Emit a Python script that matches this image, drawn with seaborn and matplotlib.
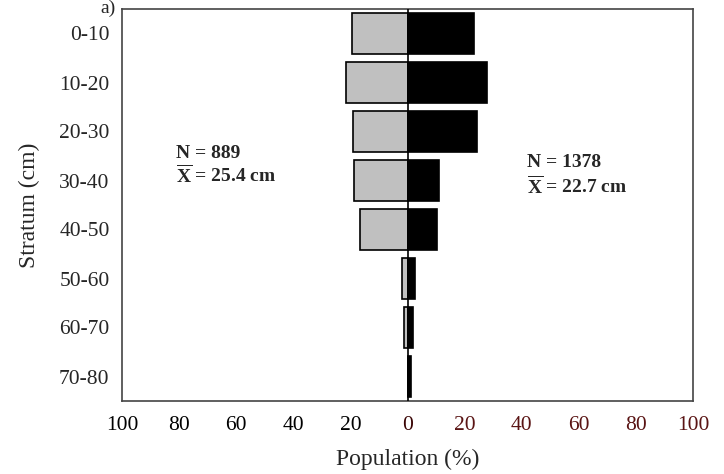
import matplotlib
matplotlib.use("Agg")
import matplotlib.pyplot as plt
import seaborn as sns
import pandas as pd

strata = ["0-10", "10-20", "20-30", "30-40", "40-50", "50-60", "60-70", "70-80"]
left_pct = [19.6, 21.4, 19.0, 18.6, 16.8, 1.8, 1.4, 0.0]
right_pct = [23.2, 28.0, 24.2, 10.9, 10.2, 2.8, 2.1, 1.2]
tick_values = [-100, -80, -60, -40, -20, 0, 20, 40, 60, 80, 100]
tick_labels = ["100", "80", "60", "40", "20", "0", "20", "40", "60", "80", "100"]

sns.set_theme(style="white")
plt.rcParams["font.family"] = ["Liberation Serif", "DejaVu Serif"]
plt.rcParams["mathtext.fontset"] = "custom"
plt.rcParams["mathtext.rm"] = "Liberation Serif"
plt.rcParams["mathtext.bf"] = "Liberation Serif:bold"

df_left = pd.DataFrame({"stratum": strata, "value": [-v for v in left_pct]})
df_right = pd.DataFrame({"stratum": strata, "value": right_pct})

fig = plt.figure(figsize=(7.24, 4.74), dpi=100)
ax = fig.add_axes([122 / 724, 1 - 401 / 474, (693 - 122) / 724, (401 - 9) / 474])

sns.barplot(data=df_left, y="stratum", x="value", order=strata, orient="h",
            color="#c0c0c0", edgecolor="black", linewidth=1.2, width=0.84,
            saturation=1, ax=ax)
sns.barplot(data=df_right, y="stratum", x="value", order=strata, orient="h",
            color="black", edgecolor="black", linewidth=1.2, width=0.84,
            saturation=1, ax=ax)

ax.axvline(0, color="black", lw=1.2, zorder=5)
ax.set_xlim(-100, 100)
ax.set_ylim(len(strata) - 0.5, -0.5)
ax.set_xticks(tick_values)
ax.set_xticklabels(tick_labels, fontsize=15.5)
for lbl, v in zip(ax.get_xticklabels(), tick_values):
    if v > 0:
        lbl.set_color("#5a1414")
    elif v == 0:
        lbl.set_color("#3a0505")
    else:
        lbl.set_color("black")
ax.tick_params(axis="y", labelsize=15.5, length=0, pad=9)
ax.tick_params(axis="x", length=0, pad=11)
ax.set_xlabel("Population (%)", fontsize=17, labelpad=10)
ax.set_ylabel("Stratum (cm)", fontsize=17, labelpad=14)
for s in ax.spines.values():
    s.set_color("#444444")
    s.set_linewidth(1.2)

ax.text(-81, 2.44, "N = 889", fontsize=14, fontweight="bold", ha="left", va="center")
ax.text(-81, 2.89, r"$\overline{\mathbf{X}}$ = 25.4 cm", fontsize=14, fontweight="bold",
        ha="left", va="center")
ax.text(42, 2.64, "N = 1378", fontsize=14, fontweight="bold", ha="left", va="center")
ax.text(42, 3.11, r"$\overline{\mathbf{X}}$ = 22.7 cm", fontsize=14, fontweight="bold",
        ha="left", va="center")

fig.text(108 / 724, 1.0, "a)", fontsize=14, ha="center", va="top")

fig.savefig("out.png", dpi=100)
